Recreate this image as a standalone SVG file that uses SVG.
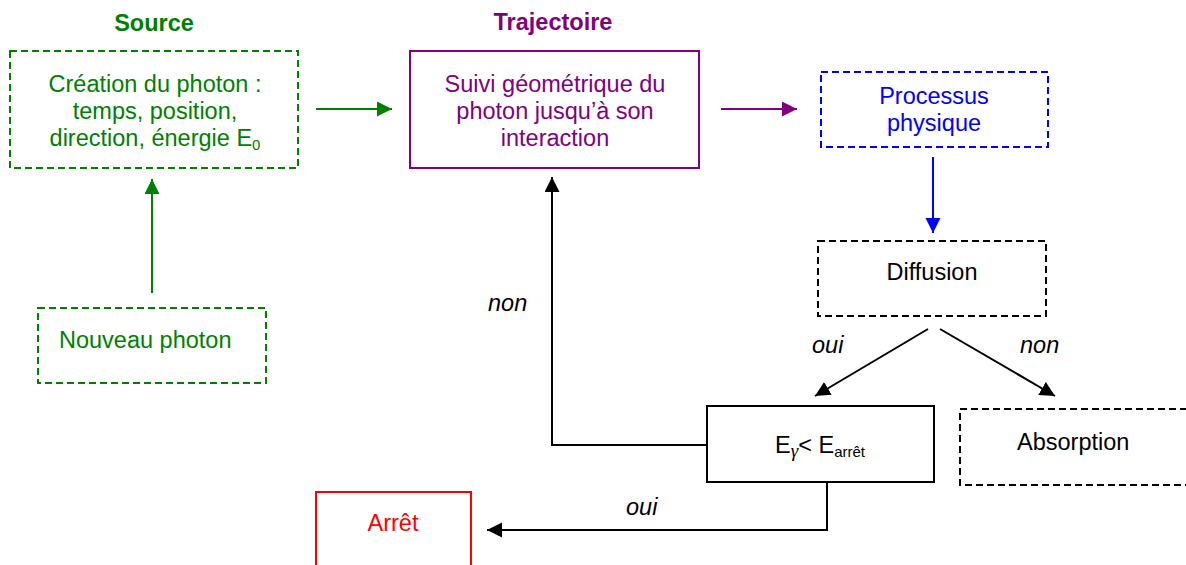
<svg xmlns="http://www.w3.org/2000/svg" width="1186" height="565" viewBox="0 0 1186 565">
<style>
text{font-family:"Liberation Sans",Arial,sans-serif;font-size:23.5px}
.t{font-weight:bold;text-anchor:middle}
.c{text-anchor:middle}
.lbl{font-style:italic;fill:#000}
.box{fill:none;stroke-width:2}
.dash{stroke-dasharray:7 4}
.g{fill:#008000}.p{fill:#800080}.b{fill:#0000FF}.r{fill:#FF0000}.k{fill:#000}
.sub{font-size:15px}
.ln{fill:none;stroke-width:2}
</style>
<defs>
<marker id="ag" markerUnits="userSpaceOnUse" markerWidth="16" markerHeight="16" refX="15" refY="7.5" orient="auto"><path d="M0,0 L15,7.5 L0,15 z" fill="#008000"/></marker>
<marker id="ap" markerUnits="userSpaceOnUse" markerWidth="16" markerHeight="16" refX="15" refY="7.5" orient="auto"><path d="M0,0 L15,7.5 L0,15 z" fill="#800080"/></marker>
<marker id="ab" markerUnits="userSpaceOnUse" markerWidth="16" markerHeight="16" refX="15" refY="7.5" orient="auto"><path d="M0,0 L15,7.5 L0,15 z" fill="#0000FF"/></marker>
<marker id="ak" markerUnits="userSpaceOnUse" markerWidth="16" markerHeight="16" refX="15" refY="7.5" orient="auto"><path d="M0,0 L15,7.5 L0,15 z" fill="#000"/></marker>
</defs>
<rect width="1186" height="565" fill="#fff"/>
<text class="t g" x="154" y="31">Source</text>
<text class="t p" x="553" y="30">Trajectoire</text>
<g id="source">
<rect class="box dash" x="10" y="51" width="288" height="117" stroke="#008000"/>
<text class="c g" x="155" y="92">Création du photon :</text>
<text class="c g" x="155" y="119">temps, position,</text>
<text class="c g" x="155" y="146">direction, énergie E<tspan class="sub" dy="4">0</tspan></text>
</g>
<g id="trajectoire">
<rect class="box" x="410" y="51" width="289" height="117" stroke="#800080"/>
<text class="c p" x="555" y="92">Suivi géométrique du</text>
<text class="c p" x="555" y="119">photon jusqu’à son</text>
<text class="c p" x="555" y="146">interaction</text>
</g>
<g id="processus">
<rect class="box dash" x="821" y="72" width="227" height="75" stroke="#0000FF"/>
<text class="c b" x="934" y="104">Processus</text>
<text class="c b" x="934" y="131">physique</text>
</g>
<g id="diffusion">
<rect class="box dash" x="818" y="241" width="228" height="75" stroke="#000"/>
<text class="c k" x="932" y="280">Diffusion</text>
</g>
<g id="test">
<rect class="box" x="707" y="406" width="227" height="76" stroke="#000"/>
<text class="c k" x="820" y="453">E<tspan font-family="'Liberation Serif',serif" font-style="italic" font-size="19" dy="4">γ</tspan><tspan dy="-4">&lt; E</tspan><tspan class="sub" dy="4">arrêt</tspan></text>
</g>
<g id="absorption">
<rect class="box dash" x="960" y="409" width="232" height="76" stroke="#000"/>
<text class="k" x="1017" y="450">Absorption</text>
</g>
<g id="nouveau">
<rect class="box dash" x="38" y="308" width="228" height="75" stroke="#008000"/>
<text class="g" x="59" y="348">Nouveau photon</text>
</g>
<g id="arret">
<rect class="box" x="316" y="492" width="155" height="90" stroke="#FF0000"/>
<text class="c r" x="393" y="531">Arrêt</text>
</g>
<g id="connectors">
<line class="ln" x1="316" y1="109" x2="392" y2="109" stroke="#008000" marker-end="url(#ag)"/>
<line class="ln" x1="721" y1="109" x2="797" y2="109" stroke="#800080" marker-end="url(#ap)"/>
<line class="ln" x1="933" y1="157" x2="933" y2="233" stroke="#0000FF" marker-end="url(#ab)"/>
<line class="ln" x1="152" y1="293" x2="152" y2="179" stroke="#008000" marker-end="url(#ag)"/>
<line class="ln" x1="928" y1="329" x2="815" y2="396" stroke="#000" marker-end="url(#ak)"/>
<line class="ln" x1="940" y1="329" x2="1055" y2="396" stroke="#000" marker-end="url(#ak)"/>
<polyline class="ln" points="707,445 552,445 552,177" stroke="#000" marker-end="url(#ak)"/>
<polyline class="ln" points="827,482 827,530 487,530" stroke="#000" marker-end="url(#ak)"/>
<text class="lbl" x="812" y="353">oui</text>
<text class="lbl" x="1020" y="353">non</text>
<text class="lbl" x="488" y="311">non</text>
<text class="lbl" x="626" y="515">oui</text>
</g>
</svg>
